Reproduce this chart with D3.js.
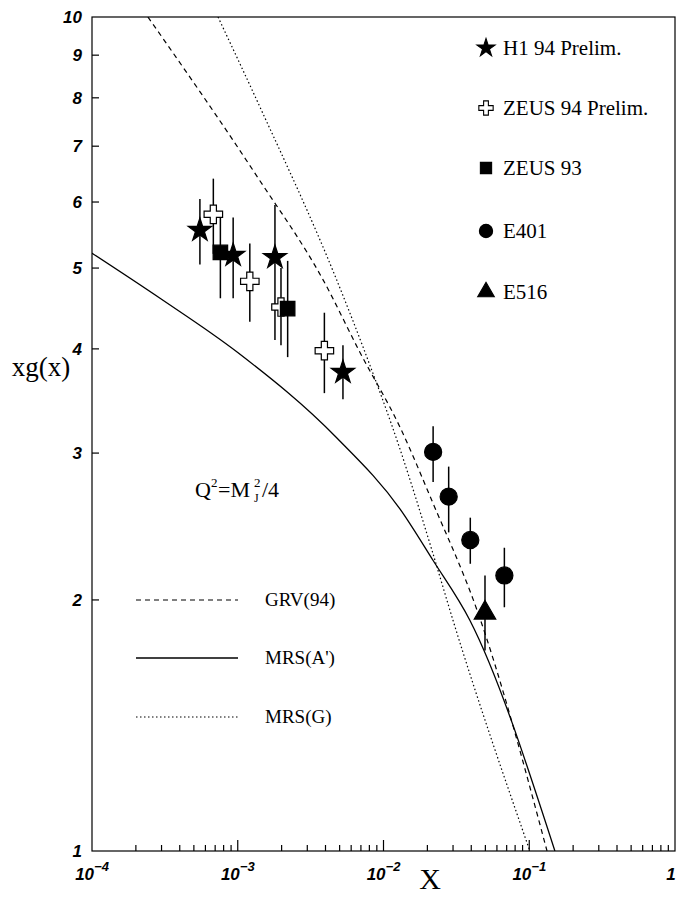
<!DOCTYPE html>
<html><head><meta charset="utf-8">
<script src="https://cdn.jsdelivr.net/npm/d3@7"></script>
<style>body{margin:0;background:#fff}svg{display:block}</style>
</head><body>
<script>
// ---- data ----
const xTickExps = [-4, -3, -2, -1, 0];
const yTickValues = [1, 2, 3, 4, 5, 6, 7, 8, 9, 10];

// points: x, y, lower, upper
const h1_94 = [
  [5.5e-4, 5.55, 5.05, 6.05],
  [9.3e-4, 5.18, 4.60, 5.75],
  [1.80e-3, 5.15, 4.10, 5.95],
  [5.27e-3, 3.75, 3.48, 4.04]
];
const zeus_94 = [
  [6.8e-4, 5.80, 5.20, 6.40],
  [1.21e-3, 4.82, 4.31, 5.35],
  [1.98e-3, 4.49, 4.04, 5.00],
  [3.93e-3, 3.98, 3.54, 4.42]
];
const zeus_93 = [
  [7.6e-4, 5.22, 4.60, 5.75],
  [2.20e-3, 4.47, 3.91, 5.10]
];
const e401 = [
  [0.0219, 3.01, 2.77, 3.23],
  [0.0280, 2.66, 2.41, 2.89],
  [0.0394, 2.36, 2.21, 2.51],
  [0.0675, 2.14, 1.96, 2.31]
];
const e516 = [
  [0.0497, 1.93, 1.74, 2.14]
];

// curves
const grv94 = [[2.42e-4, 10], [1.38e-3, 6.41], [3.85e-3, 4.84], [6.9e-3, 3.96], [0.0130, 3.22], [0.0219, 2.61], [0.0438, 1.945], [0.1324, 1.0]];
const mrsAprime = [[1e-4, 5.21], [2.93e-4, 4.60], [1.0e-3, 3.96], [4.77e-3, 3.13], [0.0130, 2.57], [0.0219, 2.23], [0.0392, 1.89], [0.150, 1.0]];
const mrsG = [[7.32e-4, 10], [1.42e-3, 7.80], [4.77e-3, 4.84], [7.24e-3, 4.02], [0.0130, 3.03], [0.0214, 2.30], [0.030, 1.89], [0.101, 1.0]];

const pointLegend = ["H1 94 Prelim.", "ZEUS 94 Prelim.", "ZEUS 93", "E401", "E516"];
const lineLegend = ["GRV(94)", "MRS(A')", "MRS(G)"];

// ---- layout ----
const W = 679, H = 899;
const L = 92, R = 675, T = 17, B = 851;

const svg = d3.select("body").append("svg").attr("width", W).attr("height", H);
const x = d3.scaleLog().domain([1e-4, 1]).range([L, R]);
const y = d3.scaleLog().domain([1, 10]).range([B, T]);

const serif = "'Liberation Serif', 'Times New Roman', serif";
const sans = "'Liberation Sans', Arial, sans-serif";

// frame
svg.append("rect").attr("x", L).attr("y", T).attr("width", R - L).attr("height", B - T)
  .attr("fill", "none").attr("stroke", "#000").attr("stroke-width", 1.2);

// x ticks (inward, at bottom)
const xMinor = [];
for (let e = -4; e < 0; e++) for (let m = 2; m <= 9; m++) xMinor.push(m * Math.pow(10, e));
svg.append("g").selectAll("line").data(xMinor).join("line")
  .attr("x1", d => x(d)).attr("x2", d => x(d)).attr("y1", B).attr("y2", B - 6)
  .attr("stroke", "#000").attr("stroke-width", 1.2);
svg.append("g").selectAll("line").data(xTickExps.slice(1, 4)).join("line")
  .attr("x1", d => x(Math.pow(10, d))).attr("x2", d => x(Math.pow(10, d))).attr("y1", B).attr("y2", B - 11)
  .attr("stroke", "#000").attr("stroke-width", 1.2);

// y ticks (inward, at left)
svg.append("g").selectAll("line").data(yTickValues.slice(1, 9)).join("line")
  .attr("x1", L).attr("x2", L + 7).attr("y1", d => y(d)).attr("y2", d => y(d))
  .attr("stroke", "#000").attr("stroke-width", 1.2);

// y tick labels
svg.append("g").selectAll("text").data(yTickValues).join("text")
  .attr("x", L - 10).attr("y", d => y(d) + 6)
  .attr("text-anchor", "end").attr("font-family", sans).attr("font-weight", "bold")
  .attr("font-style", "italic").attr("font-size", 17).text(d => d);

// x tick labels
const xl = svg.append("g").selectAll("text").data(xTickExps).join("text")
  .attr("x", d => x(Math.pow(10, d)) + (d === 0 ? -4 : 0)).attr("y", B + 29)
  .attr("text-anchor", "middle").attr("font-family", sans).attr("font-weight", "bold")
  .attr("font-style", "italic").attr("font-size", 17);
xl.each(function (d) {
  const t = d3.select(this);
  if (d === 0) { t.text("1"); return; }
  t.append("tspan").text("10");
  t.append("tspan").attr("dy", -9).attr("font-size", 13).text("\u2212" + (-d));
});

// axis titles
svg.append("text").attr("x", 41).attr("y", 376).attr("text-anchor", "middle")
  .attr("font-family", serif).attr("font-size", 27).text("xg(x)");
svg.append("text").attr("x", 430).attr("y", 889).attr("text-anchor", "middle")
  .attr("font-family", serif).attr("font-size", 30).text("X");

// annotation Q^2 = M_J^2 / 4
const ax = 195, ay = 497;
const ann = svg.append("g").attr("font-family", serif);
ann.append("text").attr("x", ax).attr("y", ay).attr("font-size", 22).text("Q");
ann.append("text").attr("x", ax + 16).attr("y", ay - 10).attr("font-size", 13).text("2");
ann.append("text").attr("x", ax + 23).attr("y", ay).attr("font-size", 22).text("=M");
ann.append("text").attr("x", ax + 59).attr("y", ay - 10).attr("font-size", 13).text("2");
ann.append("text").attr("x", ax + 59).attr("y", ay + 5).attr("font-size", 12).text("J");
ann.append("text").attr("x", ax + 67).attr("y", ay).attr("font-size", 22).text("/4");

// curves
svg.append("clipPath").attr("id", "clip").append("rect")
  .attr("x", L).attr("y", T).attr("width", R - L).attr("height", B - T);
const line = d3.line().x(d => x(d[0])).y(d => y(d[1])).curve(d3.curveMonotoneX);
const curveDefs = [
  { data: grv94, dash: "5,4", w: 1.2 },
  { data: mrsAprime, dash: null, w: 1.3 },
  { data: mrsG, dash: "1.5,2.5", w: 1.2 }
];
svg.append("g").attr("clip-path", "url(#clip)").selectAll("path").data(curveDefs).join("path")
  .attr("d", d => line(d.data)).attr("fill", "none").attr("stroke", "#000")
  .attr("stroke-width", d => d.w).attr("stroke-dasharray", d => d.dash);

// line legend
const lly = [600, 658, 717];
svg.append("g").selectAll("line").data(curveDefs).join("line")
  .attr("x1", 136).attr("x2", 238).attr("y1", (d, i) => lly[i]).attr("y2", (d, i) => lly[i])
  .attr("stroke", "#000").attr("stroke-width", d => d.w).attr("stroke-dasharray", d => d.dash);
svg.append("g").selectAll("text").data(lineLegend).join("text")
  .attr("x", 265).attr("y", (d, i) => lly[i] + 6).attr("font-family", serif).attr("font-size", 19).text(d => d);

// markers
const series = [
  { data: h1_94, sym: d3.symbolStar, size: 170, fill: "#000" },
  { data: zeus_94, sym: d3.symbolCross, size: 190, fill: "#fff" },
  { data: zeus_93, sym: d3.symbolSquare, size: 210, fill: "#000" },
  { data: e401, sym: d3.symbolCircle, size: 230, fill: "#000" },
  { data: e516, sym: d3.symbolTriangle, size: 200, fill: "#000" }
];
const gEb = svg.append("g");
series.forEach(s => {
  gEb.selectAll(null).data(s.data).join("line")
    .attr("x1", d => x(d[0])).attr("x2", d => x(d[0]))
    .attr("y1", d => y(d[2])).attr("y2", d => y(d[3]))
    .attr("stroke", "#000").attr("stroke-width", 1.5);
});
const gM = svg.append("g");
series.forEach(s => {
  gM.selectAll(null).data(s.data).join("path")
    .attr("transform", d => `translate(${x(d[0])},${y(d[1])})`)
    .attr("d", d3.symbol().type(s.sym).size(s.size))
    .attr("fill", s.fill).attr("stroke", "#000").attr("stroke-width", 1.2);
});

// point legend
const ply = [48, 108, 168, 231, 292];
const lg = svg.append("g");
lg.selectAll("path").data(series).join("path")
  .attr("transform", (d, i) => `translate(486,${ply[i]})`)
  .attr("d", d => d3.symbol().type(d.sym).size(d.size * 0.6)())
  .attr("fill", d => d.fill).attr("stroke", "#000").attr("stroke-width", 1.1);
lg.selectAll("text").data(pointLegend).join("text")
  .attr("x", 503).attr("y", (d, i) => ply[i] + 7).attr("font-family", serif).attr("font-size", 21).text(d => d);
</script>
</body></html>
